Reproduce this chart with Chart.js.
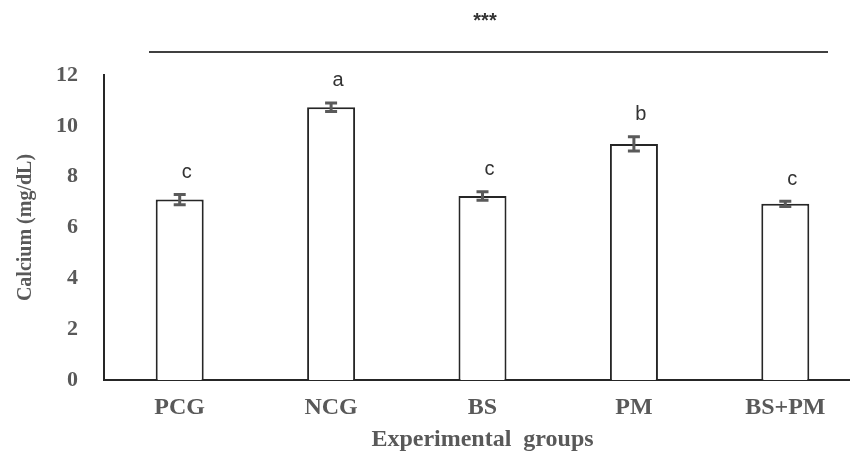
<!DOCTYPE html>
<html>
<head>
<meta charset="utf-8">
<script src="https://cdn.jsdelivr.net/npm/chart.js@4"></script>
<style>
  html, body { margin: 0; padding: 0; background: #fff; overflow: hidden; }
  #wrap { width: 870px; height: 458px; }
</style>
</head>
<body>
<div id="wrap"><canvas id="bar-chart"></canvas></div>
<script>
// data
const groups = ["PCG", "NCG", "BS", "PM", "BS+PM"];
const calcium = [7.10, 10.73, 7.24, 9.29, 6.93];   // mg/dL
const calciumErr = [0.20, 0.17, 0.17, 0.28, 0.10];
const letters = ["c", "a", "c", "b", "c"];
const yMin = 0, yMax = 12, yStep = 2;

const textGrey = "#595959";
const serif = "'Liberation Serif', 'Times New Roman', serif";

// error bars + significance letters + the *** line on top
const extras = {
  id: "extras",
  afterDatasetsDraw(chart) {
    const ctx = chart.ctx;
    const x = chart.scales.x, y = chart.scales.y;
    ctx.save();
    calcium.forEach((v, i) => {
      const cx = x.getPixelForValue(i);
      const top = y.getPixelForValue(v + calciumErr[i]);
      const bot = y.getPixelForValue(v - calciumErr[i]);
      ctx.strokeStyle = "#5a5a5a";
      ctx.lineWidth = 3;
      ctx.beginPath();
      ctx.moveTo(cx, top); ctx.lineTo(cx, bot);
      ctx.moveTo(cx - 6, top); ctx.lineTo(cx + 6, top);
      ctx.moveTo(cx - 6, bot); ctx.lineTo(cx + 6, bot);
      ctx.stroke();
      //letter above the error bar
      ctx.fillStyle = "#333";
      ctx.font = "20px 'Liberation Sans', Arial, sans-serif";
      ctx.textAlign = "center";
      ctx.textBaseline = "middle";
      ctx.fillText(letters[i], cx + 7, top - 22);
    });
    // overall significance
    ctx.strokeStyle = "#404040";
    ctx.lineWidth = 2;
    ctx.beginPath();
    ctx.moveTo(149, 52); ctx.lineTo(828, 52);
    ctx.stroke();
    ctx.fillStyle = "#333";
    ctx.font = "bold 20px 'Liberation Sans', Arial, sans-serif";
    ctx.fillText("***", 485, 21);
    ctx.restore();
  }
};

new Chart(document.getElementById("bar-chart"), {
  type: "bar",
  data: {
    labels: groups,
    datasets: [
      {
        data: calcium,
        backgroundColor: "#ffffff",
        borderColor: "#262626",
        borderWidth: 2,
        categoryPercentage: 1,
        barPercentage: 0.317,
      },
    ],
  },
  options: {
    responsive: true,
    maintainAspectRatio: false,
    animation: false,
    layout: { padding: { left: 0, top: 75, right: 9, bottom: 0 } },
    plugins: { legend: { display: false }, tooltip: { enabled: false } },
    scales: {
      x: {
        grid: { display: false, drawTicks: false },
        border: { display: true, color: "#262626", width: 2 },
        ticks: { color: textGrey, padding: 13, font: { family: serif, size: 24, weight: "bold" } },
        title: {
          display: true,
          text: "Experimental  groups",
          color: textGrey,
          padding: { top: 0, bottom: 4 },
          font: { family: serif, size: 24, weight: "bold" },
        },
        afterFit(scale) { scale.height = 78; },
      },
      y: {
        min: yMin,
        max: yMax,
        grid: { display: false, drawTicks: false },
        border: { display: true, color: "#262626", width: 2 },
        ticks: { stepSize: yStep, color: textGrey, padding: 26, font: { family: serif, size: 22, weight: "bold" } },
        title: {
          display: true,
          text: "Calcium (mg/dL)",
          color: textGrey,
          padding: { top: 14, bottom: 0 },
          font: { family: serif, size: 20, weight: "bold" },
        },
        afterFit(scale) { scale.width = 104; },
      },
    },
  },
  plugins: [extras],
});
</script>
</body>
</html>
